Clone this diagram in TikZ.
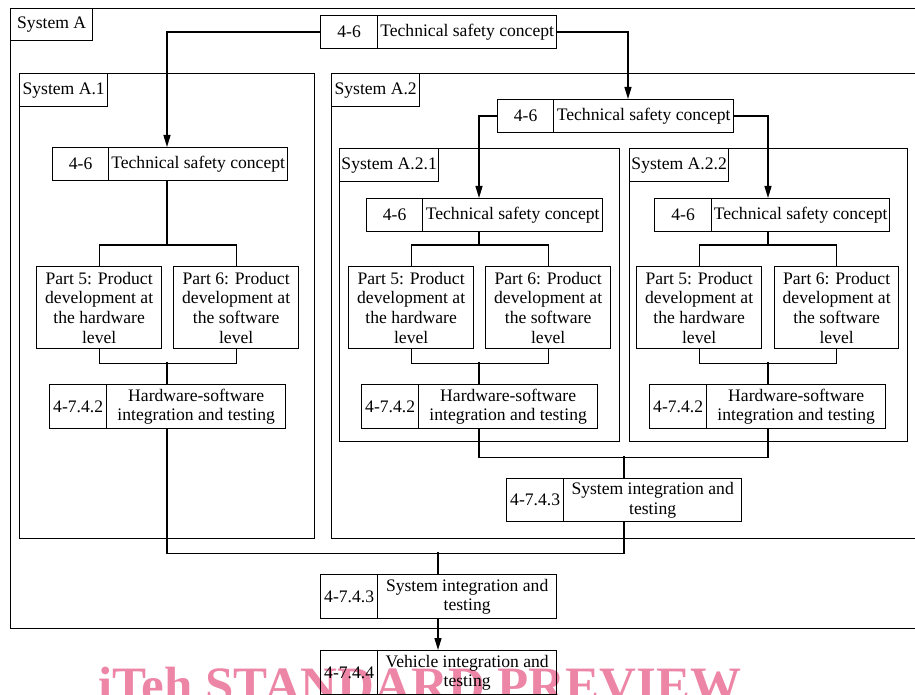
\documentclass[tikz,border=0pt]{standalone}
\usepackage{fontspec}
\setmainfont{Liberation Serif}
\usetikzlibrary{arrows.meta}
\definecolor{wmpink}{RGB}{236,133,166}
\newcommand\dfont{\fontsize{17.6}{19.6}\selectfont}
\begin{document}
\begin{tikzpicture}[x=1pt,y=-1pt,
  bx/.style={draw, line width=1.3pt, inner sep=0pt, align=center, font=\dfont, anchor=north west},
  frame/.style={draw, line width=1.3pt, inner sep=0pt, anchor=north west},
  ln/.style={line width=1.3pt},
  arr/.style={line width=1.3pt, -{Triangle[length=12pt,width=7pt]}}
]
\useasboundingbox (0,0) rectangle (915,695);
\clip (0,0) rectangle (915,695);

% watermark
\node[anchor=base west, inner sep=0pt, text=wmpink, font=\bfseries\fontsize{51}{51}\selectfont] (wm) at (98,702) {iTeh STANDARD PREVIEW};

% axes
\coordinate (ax0) at (628,0);
\coordinate (ax1) at (167,0);
\coordinate (ax2) at (479,0);
\coordinate (ax3) at (768,0);
\coordinate (axS) at (438,0);
\coordinate (axS2) at (624,0);

% frames
\node[frame, minimum width=920pt, minimum height=620pt] (A) at (10,8) {};
\node[frame, minimum width=295pt, minimum height=465pt] (A1) at (19,73) {};
\node[frame, minimum width=600pt, minimum height=465pt] (A2) at (331,73) {};
\node[frame, minimum width=280pt, minimum height=293pt] (A21) at (339,148) {};
\node[frame, minimum width=278pt, minimum height=293pt] (A22) at (629,148) {};

% labels
\node[bx, minimum width=82pt, minimum height=32pt] (lA) at (10,8) {System A};
\node[bx, minimum width=88pt, minimum height=33pt] (lA1) at (19,73) {System A.1};
\node[bx, minimum width=88pt, minimum height=33pt] (lA2) at (331,73) {System A.2};
\node[bx, minimum width=99pt, minimum height=33pt] (lA21) at (339,148) {System A.2.1};
\node[bx, minimum width=99pt, minimum height=33pt] (lA22) at (629,148) {System A.2.2};

% technical safety concept boxes
\node[bx, minimum width=57pt, minimum height=33pt] (t0n) at (320,15) {4-6};
\node[bx, minimum width=179pt, minimum height=33pt] (t0t) at (377,15) {Technical safety concept};
\node[bx, minimum width=56pt, minimum height=33pt] (t1n) at (52,147) {4-6};
\node[bx, minimum width=179pt, minimum height=33pt] (t1t) at (108,147) {Technical safety concept};
\node[bx, minimum width=56pt, minimum height=33pt] (t2n) at (497,99) {4-6};
\node[bx, minimum width=180pt, minimum height=33pt] (t2t) at (553,99) {Technical safety concept};
\node[bx, minimum width=56pt, minimum height=33pt] (t21n) at (366,198) {4-6};
\node[bx, minimum width=180pt, minimum height=33pt] (t21t) at (422,198) {Technical safety concept};
\node[bx, minimum width=57pt, minimum height=33pt] (t22n) at (654,198) {4-6};
\node[bx, minimum width=178pt, minimum height=33pt] (t22t) at (711,198) {Technical safety concept};

% part boxes
\node[bx, minimum width=125pt, minimum height=82pt] (p5a) at (36,266) {Part 5: Product\\development at\\the hardware\\level};
\node[bx, minimum width=125pt, minimum height=82pt] (p6a) at (173,266) {Part 6: Product\\development at\\the software\\level};
\node[bx, minimum width=125pt, minimum height=82pt] (p5b) at (348,266) {Part 5: Product\\development at\\the hardware\\level};
\node[bx, minimum width=125pt, minimum height=82pt] (p6b) at (485,266) {Part 6: Product\\development at\\the software\\level};
\node[bx, minimum width=125pt, minimum height=82pt] (p5c) at (636,266) {Part 5: Product\\development at\\the hardware\\level};
\node[bx, minimum width=124pt, minimum height=82pt] (p6c) at (774,266) {Part 6: Product\\development at\\the software\\level};

% hardware-software integration
\node[bx, minimum width=57pt, minimum height=44pt] (h1n) at (49,384) {4-7.4.2};
\node[bx, minimum width=179pt, minimum height=44pt] (h1t) at (106,384) {Hardware-software\\integration and testing};
\node[bx, minimum width=57pt, minimum height=44pt] (h2n) at (361,384) {4-7.4.2};
\node[bx, minimum width=179pt, minimum height=44pt] (h2t) at (418,384) {Hardware-software\\integration and testing};
\node[bx, minimum width=57pt, minimum height=44pt] (h3n) at (649,384) {4-7.4.2};
\node[bx, minimum width=179pt, minimum height=44pt] (h3t) at (706,384) {Hardware-software\\integration and testing};

% system integration
\node[bx, minimum width=57pt, minimum height=43pt] (s2n) at (506,478) {4-7.4.3};
\node[bx, minimum width=178pt, minimum height=43pt] (s2t) at (563,478) {System integration and\\testing};
\node[bx, minimum width=57pt, minimum height=44pt] (sn) at (320,574) {4-7.4.3};
\node[bx, minimum width=179pt, minimum height=44pt] (st) at (377,574) {System integration and\\testing};

% vehicle integration
\node[bx, minimum width=57pt, minimum height=44pt] (vn) at (320,650) {4-7.4.4};
\node[bx, minimum width=179pt, minimum height=44pt] (vt) at (377,650) {Vehicle integration and\\testing};

% connectors: concept distribution
\draw[arr] (t0n.west) -| (t1t.north -| ax1);
\draw[arr] (t0t.east) -| (t2t.north -| ax0);
\draw[arr] (t2n.west) -| (t21t.north -| ax2);
\draw[arr] (t2t.east) -| (t22t.north -| ax3);

% system A.1
\draw[ln] (t1t.south -| ax1) -- ++(0,65);
\draw[ln] (p5a.north) -- ++(0,-21) -| (p6a.north);
\draw[ln] (p5a.south) -- ++(0,14) -| (p6a.south);
\draw[ln] (h1t.north -| ax1) -- ++(0,-22);
\draw[ln] (h1t.south -| ax1) -- ++(0,124) -| (s2t.south -| axS2);

% system A.2.1
\draw[ln] (t21t.south -| ax2) -- ++(0,14);
\draw[ln] (p5b.north) -- ++(0,-21) -| (p6b.north);
\draw[ln] (p5b.south) -- ++(0,14) -| (p6b.south);
\draw[ln] (h2t.north -| ax2) -- ++(0,-22);
\draw[ln] (h2t.south -| ax2) -- ++(0,28) -| (h3t.south -| ax3);

% system A.2.2
\draw[ln] (t22t.south -| ax3) -- ++(0,14);
\draw[ln] (p5c.north) -- ++(0,-21) -| (p6c.north);
\draw[ln] (p5c.south) -- ++(0,14) -| (p6c.south);
\draw[ln] (h3t.north -| ax3) -- ++(0,-22);

% system integration links
\draw[ln] (s2t.north -| axS2) -- ++(0,-22);
\draw[ln] (st.north -| axS) -- ++(0,-22);
\draw[arr] (st.south -| axS) -- (vt.north -| axS);
\end{tikzpicture}
\end{document}
